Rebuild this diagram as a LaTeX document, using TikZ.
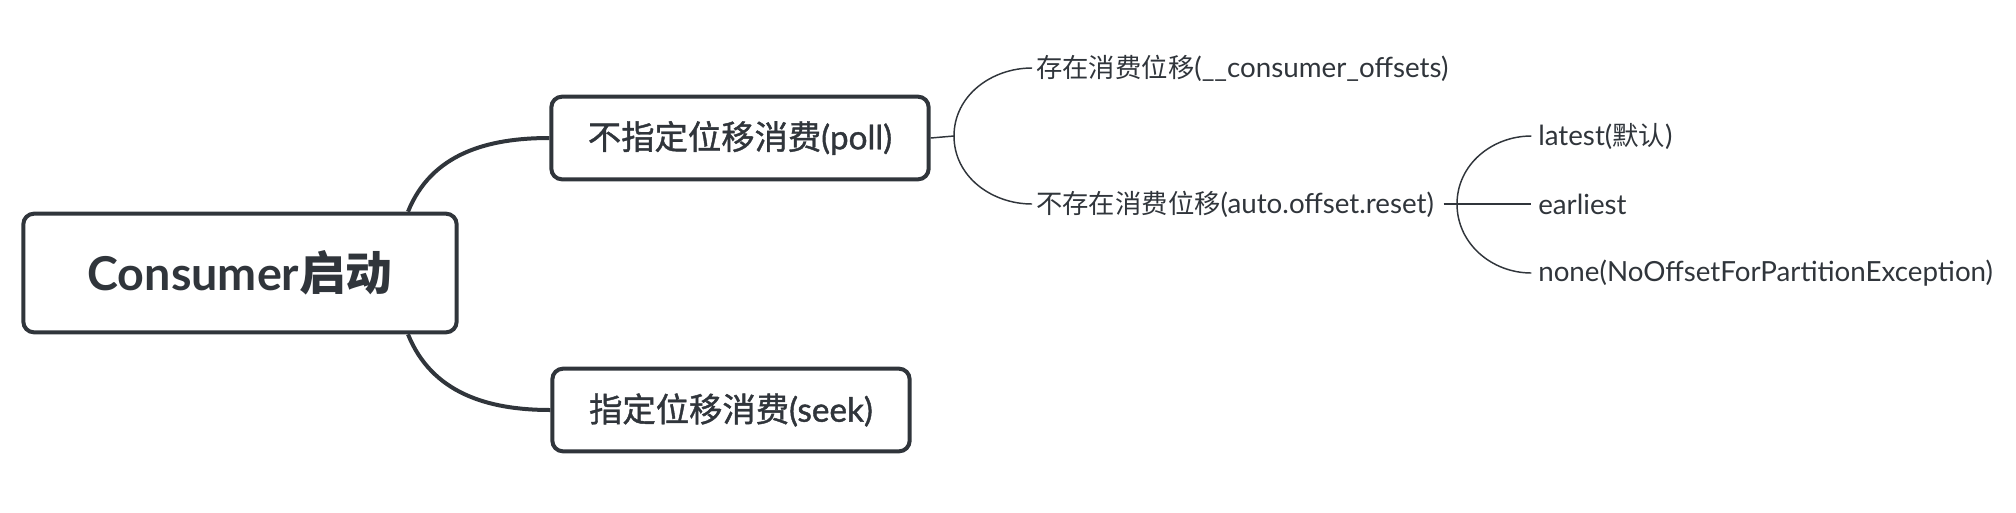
\documentclass[tikz,border=0pt]{standalone}
\usepackage{fontspec}
\setmainfont{Lato}
\newfontfamily\cjk{Noto Sans CJK SC}
\newfontfamily\smallcjk[Scale=0.95]{Noto Sans CJK SC}
\newfontfamily\midlat[FakeBold=1.2]{Lato}
\newfontfamily\midcjk[FakeBold=1.2]{Noto Sans CJK SC}
\definecolor{ink}{HTML}{30353B}

\begin{document}
\begin{tikzpicture}[x=0.75pt,y=0.75pt,>=latex]
\tikzset{topic/.style={draw=ink,line width=3pt,rounded corners=8pt,fill=white,text=ink,inner sep=0pt,minimum height=62pt},
leaf/.style={text=ink,anchor=west,inner sep=0pt,font=\fontsize{20.8}{24}\selectfont},
bigline/.style={draw=ink,line width=3pt},
smallline/.style={draw=ink,line width=1.1pt}}
\useasboundingbox (0,0) rectangle (2016,-512);
% main topic and the two branches
\node[topic,minimum width=325pt,minimum height=89pt,font=\fontsize{35}{40}\selectfont\bfseries] (start) at (240,-273) {Consumer{\cjk 启动}};
\node[topic,minimum width=283pt] (poll) at (740,-138) {\fontsize{25}{30}\selectfont{\midcjk 不指定位移消费}\midlat(poll)};
\node[topic,minimum width=268pt] (seek) at (731,-410) {\fontsize{25}{30}\selectfont{\midcjk 指定位移消费}\midlat(seek)};
\coordinate (startup) at ([xshift=-38pt]start.north east);
\coordinate (startdown) at ([xshift=-38pt]start.south east);
\draw[bigline] (startup) to[out=68,in=180] (poll.west);
\draw[bigline] (startdown) to[out=-68,in=180] (seek.west);
% leaves of poll
\node[leaf] (has) at (1036,-68) {{\smallcjk 存在消费位移}(\_\_consumer\_offsets)};
\node[leaf] (hasnot) at (1036,-204) {{\smallcjk 不存在消费位移}(auto.offset.reset)};
\coordinate (pollhub) at (954,-136);
\draw[smallline] (poll.east) -- (pollhub);
\draw[smallline] (pollhub) to[out=90,in=180] ([xshift=-3pt]has.west);
\draw[smallline] (pollhub) to[out=-90,in=180] ([xshift=-3pt]hasnot.west);
% reset values
\node[leaf] (latest) at (1538,-136) {latest({\smallcjk 默认})};
\node[leaf] (earliest) at (1538,-204) {earliest};
\node[leaf] (none) at (1538,-273) {none(NoOffsetForPartitionException)};
\coordinate (resethub) at (1457,-204);
\draw[smallline] ([xshift=7pt]hasnot.east) -- ([xshift=-5pt]earliest.west);
\draw[smallline] (resethub) to[out=90,in=180] ([xshift=-5pt]latest.west);
\draw[smallline] (resethub) to[out=-90,in=180] ([xshift=-5pt]none.west);
\end{tikzpicture}
\end{document}
